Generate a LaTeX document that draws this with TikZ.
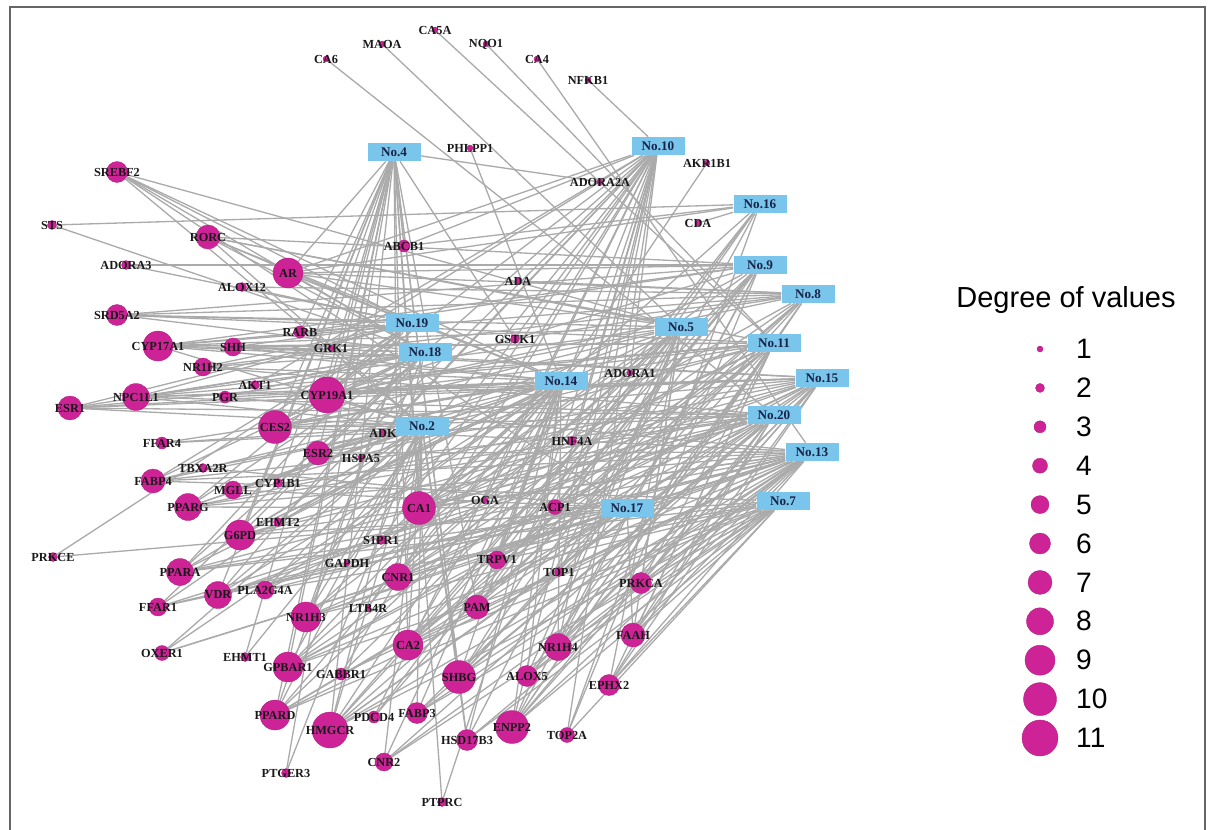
\documentclass[tikz,border=0pt]{standalone}
\usepackage{fontspec}
\setmainfont{Liberation Serif}
\newfontfamily\legendfont{Liberation Sans}
\usetikzlibrary{backgrounds}
\definecolor{genefill}{RGB}{205,35,150}
\definecolor{boxfill}{RGB}{122,197,236}
\definecolor{boxtext}{RGB}{25,35,70}
\definecolor{edgegray}{RGB}{170,170,170}
\tikzset{
  gene/.style={circle, fill=genefill, draw=genefill!85!black, line width=0.2pt, inner sep=0pt, minimum size={(3+3*#1)*0.02cm}},
  genename/.style={font=\fontsize{7}{7}\selectfont\bfseries, text=black!90},
  compound/.style={rectangle, fill=boxfill, minimum width=1.06cm, minimum height=0.36cm, inner sep=0pt, font=\fontsize{7.5}{8}\selectfont\bfseries, text=boxtext},
  edge/.style={draw=edgegray, line width=0.75pt},
}
\begin{document}
\begin{tikzpicture}[x=0.02cm, y=-0.02cm]
	\useasboundingbox (0,0) rectangle (1212,829);
	\draw[draw=black!60, line width=0.8pt] (10,7) rectangle (1205,845);
	\foreach \c/\x/\y in {2/422/426, 4/394/152, 5/681/327, 7/783/501, 8/808/294, 9/760/265, 10/658/146, 11/774/343, 13/812/452, 14/561/381, 15/822/378, 16/760/204, 17/627/508, 18/425/352, 19/412/323, 20/774/415}
		\node[compound] (c\c) at (\x,\y) {No.\c};
	\foreach \g/\x/\y/\d in {CA6/326/59/1, MAOA/382/44/1, CA5A/435/30/1, NQO1/486/44/1, CA4/537/59/1, NFKB1/588/80/1, PHLPP1/470/148/1, AKR1B1/707/163/1, ADORA2A/600/182/1, CDA/698/223/1, ABCB1/404/246/3, ADA/518/281/1,
		SREBF2/117/172/6, STS/52/225/2, RORC/208/237/7, ADORA3/126/265/2, AR/288/273/9, ALOX12/242/287/2, SRD5A2/117/315/6, CYP17A1/158/346/9, SHH/233/347/5, RARB/300/332/3, GRK1/331/348/1, NR1H2/203/367/5, AKT1/255/385/2, NPC1L1/136/397/8, PGR/225/397/3, CYP19A1/327/395/11, ESR1/70/408/7, CES2/275/427/10, ADK/383/433/1, FFAR4/162/443/3, ESR2/318/453/7, HSPA5/361/458/1, TBXA2R/203/468/2, FABP4/153/481/7, MGLL/233/490/5, CYP1B1/278/483/2, PPARG/188/507/8, EHMT2/278/522/2, G6PD/240/535/9, S1PR1/381/540/2, PRKCE/53/557/2, GAPDH/347/563/1,
		GSTK1/515/339/2, ADORA1/630/373/1, HNF4A/572/441/2, CA1/419/508/10, OGA/485/500/1, ACP1/555/507/4, TRPV1/497/560/5,
		PPARA/180/572/8, VDR/218/595/8, PLA2G4A/265/590/5, FFAR1/158/607/5, CNR1/398/577/8, NR1H3/306/617/9, LTB4R/368/608/1, OXER1/162/653/4, EHMT1/245/657/2, GPBAR1/288/667/9, GABBR1/341/674/3, CA2/408/645/9, PPARD/275/715/9, HMGCR/330/730/11, PDCD4/374/717/3, PTGER3/286/773/2, CNR2/384/762/5,
		TOP1/559/572/2, PRKCA/641/583/6, PAM/477/607/7, FAAH/633/635/7, NR1H4/558/647/8, SHBG/459/677/10, ALOX5/527/676/6, EPHX2/609/685/6, FABP3/417/713/6, ENPP2/512/727/10, HSD17B3/467/740/6, TOP2A/567/735/4, PTPRC/442/802/2}
		\node[gene=\d, label={[genename]center:\g}] (\g) at (\x,\y) {};
	\begin{pgfonlayer}{background}
	\foreach \g/\cs in {CA6/{c20}, MAOA/{c5}, CA5A/{c11}, NQO1/{c11}, CA4/{c13}, NFKB1/{c10}, PHLPP1/{c14}, AKR1B1/{c14}, ADORA2A/{c4}, CDA/{c16}, ABCB1/{c4,c10,c16}, ADA/{c8},
		SREBF2/{c5,c19,c18,c2,c14,c17}, STS/{c16,c18}, RORC/{c19,c18,c14,c5,c11,c9,c2}, ADORA3/{c19,c9}, AR/{c4,c19,c18,c14,c5,c9,c8,c10,c16}, ALOX12/{c19,c8}, SRD5A2/{c19,c18,c5,c11,c8,c9}, CYP17A1/{c19,c18,c14,c5,c8,c11,c15,c9,c2}, SHH/{c19,c18,c14,c11,c15}, RARB/{c19,c4,c9}, GRK1/{c10}, NR1H2/{c19,c18,c14,c20,c8}, AKT1/{c18,c10}, NPC1L1/{c19,c18,c2,c14,c5,c11,c15,c20}, PGR/{c18,c14,c13},
		CYP19A1/{c4,c19,c18,c2,c14,c5,c9,c8,c11,c15,c10}, ESR1/{c19,c18,c2,c14,c11,c15,c20}, CES2/{c4,c19,c18,c2,c14,c5,c11,c15,c20,c13}, ADK/{c10}, FFAR4/{c2,c14,c20}, ESR2/{c4,c2,c14,c5,c11,c15,c13}, HSPA5/{c10}, TBXA2R/{c2,c17}, FABP4/{c19,c18,c2,c14,c20,c13,c7}, MGLL/{c2,c14,c11,c20,c17}, CYP1B1/{c4,c10}, PPARG/{c19,c18,c2,c14,c15,c20,c13,c17}, EHMT2/{c10,c9}, G6PD/{c4,c18,c2,c14,c5,c15,c20,c13,c7}, S1PR1/{c10,c16}, PRKCE/{c19,c17}, GAPDH/{c10},
		GSTK1/{c4,c8}, ADORA1/{c10}, HNF4A/{c10,c16}, CA1/{c4,c2,c14,c5,c9,c8,c11,c15,c20,c13}, OGA/{c10}, ACP1/{c10,c9,c8,c15}, TRPV1/{c14,c5,c11,c13,c7},
		PPARA/{c19,c18,c2,c14,c20,c13,c7,c17}, VDR/{c4,c18,c2,c14,c15,c20,c13,c17}, PLA2G4A/{c2,c14,c11,c13,c7}, FFAR1/{c18,c2,c20,c13,c17}, CNR1/{c4,c2,c14,c5,c8,c11,c15,c13}, NR1H3/{c19,c18,c2,c14,c5,c20,c13,c7,c17}, LTB4R/{c10}, OXER1/{c2,c14,c13,c17}, EHMT1/{c4,c10}, GPBAR1/{c4,c2,c14,c5,c11,c15,c20,c13,c7}, GABBR1/{c10,c9,c13}, CA2/{c4,c2,c14,c5,c8,c11,c15,c13,c7}, PPARD/{c4,c19,c2,c14,c5,c20,c13,c7,c17}, HMGCR/{c4,c18,c2,c14,c5,c9,c11,c15,c20,c13,c7}, PDCD4/{c10,c9,c16}, PTGER3/{c4,c2}, CNR2/{c2,c14,c20,c13,c7},
		TOP1/{c10,c16}, PRKCA/{c5,c11,c15,c20,c13,c7}, PAM/{c10,c4,c14,c9,c8,c16,c17}, FAAH/{c5,c11,c15,c20,c13,c7,c17}, NR1H4/{c10,c14,c5,c9,c8,c11,c15,c13}, SHBG/{c4,c2,c14,c5,c9,c8,c11,c15,c20,c13}, ALOX5/{c14,c5,c11,c15,c13,c7}, EPHX2/{c5,c11,c15,c20,c13,c7}, FABP3/{c2,c14,c20,c13,c7,c17}, ENPP2/{c10,c14,c5,c9,c8,c11,c15,c20,c13,c7}, HSD17B3/{c4,c2,c14,c5,c13,c7}, TOP2A/{c10,c16,c9,c7}, PTPRC/{c10,c4}}
		\foreach \c in \cs
			\draw[edge] (\g) -- (\c);
	\end{pgfonlayer}
	\node[font=\legendfont\fontsize{16.5}{18}\selectfont] (legtitle) at (1066,300) {Degree of values};
	\foreach \d in {1,...,11} {
		\node[gene=\d] (leg\d) at (1040,{310.1+38.9*\d}) {};
		\node[anchor=west, font=\legendfont\fontsize{16}{18}\selectfont] (num\d) at (1070,{310.1+38.9*\d}) {\d};
	}
\end{tikzpicture}
\end{document}
